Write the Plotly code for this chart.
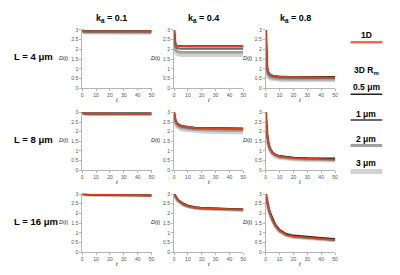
import plotly.graph_objects as go

# ---------------- data ----------------
t = [0, 0.5, 1, 2, 3, 5, 7, 10, 15, 20, 30, 40, 50]
series_names = ["3 μm", "2 μm", "1 μm", "0.5 μm", "1D"]
col_titles = ["k<sub>a</sub> = 0.1", "k<sub>a</sub> = 0.4", "k<sub>a</sub> = 0.8"]
row_titles = ["L = 4 μm", "L = 8 μm", "L = 16 μm"]
x_ticks = [0, 10, 20, 30, 40, 50]
y_ticks = [0, 0.5, 1, 1.5, 2, 2.5, 3]

# L = 4 um
L4_k01 = {
    "3 μm":   [3, 2.90, 2.87, 2.86, 2.86, 2.85, 2.85, 2.85, 2.85, 2.85, 2.85, 2.85, 2.85],
    "2 μm":   [3, 2.92, 2.90, 2.89, 2.89, 2.88, 2.88, 2.88, 2.88, 2.88, 2.88, 2.88, 2.88],
    "1 μm":   [3, 2.94, 2.92, 2.91, 2.91, 2.91, 2.91, 2.91, 2.91, 2.91, 2.91, 2.91, 2.91],
    "0.5 μm": [3, 2.96, 2.95, 2.95, 2.95, 2.95, 2.95, 2.95, 2.95, 2.95, 2.95, 2.95, 2.95],
    "1D":     [3, 2.95, 2.94, 2.93, 2.93, 2.93, 2.93, 2.93, 2.93, 2.93, 2.93, 2.93, 2.93],
}
L4_k04 = {
    "3 μm":   [3, 2.05, 1.85, 1.75, 1.72, 1.70, 1.70, 1.70, 1.70, 1.70, 1.70, 1.70, 1.70],
    "2 μm":   [3, 2.20, 2.00, 1.90, 1.87, 1.85, 1.85, 1.85, 1.85, 1.85, 1.85, 1.85, 1.85],
    "1 μm":   [3, 2.35, 2.15, 2.07, 2.05, 2.04, 2.04, 2.04, 2.04, 2.04, 2.04, 2.04, 2.04],
    "0.5 μm": [3, 2.45, 2.28, 2.20, 2.18, 2.17, 2.17, 2.17, 2.17, 2.17, 2.17, 2.17, 2.17],
    "1D":     [3, 2.50, 2.30, 2.20, 2.17, 2.16, 2.15, 2.15, 2.15, 2.15, 2.15, 2.15, 2.15],
}
L4_k08 = {
    "3 μm":   [3, 1.30, 0.80, 0.58, 0.50, 0.46, 0.44, 0.42, 0.41, 0.41, 0.41, 0.41, 0.41],
    "2 μm":   [3, 1.40, 0.90, 0.65, 0.57, 0.52, 0.50, 0.48, 0.47, 0.47, 0.47, 0.47, 0.47],
    "1 μm":   [3, 1.50, 1.00, 0.75, 0.66, 0.60, 0.57, 0.55, 0.54, 0.53, 0.53, 0.53, 0.53],
    "0.5 μm": [3, 1.60, 1.10, 0.82, 0.72, 0.66, 0.63, 0.61, 0.60, 0.60, 0.59, 0.59, 0.59],
    "1D":     [3, 1.60, 1.10, 0.80, 0.70, 0.65, 0.62, 0.60, 0.58, 0.57, 0.56, 0.55, 0.55],
}
# L = 8 um
L8_k01 = {
    "3 μm":   [3, 2.95, 2.93, 2.92, 2.91, 2.91, 2.90, 2.90, 2.90, 2.90, 2.90, 2.90, 2.90],
    "2 μm":   [3, 2.96, 2.94, 2.93, 2.92, 2.92, 2.91, 2.91, 2.91, 2.91, 2.91, 2.91, 2.91],
    "1 μm":   [3, 2.97, 2.95, 2.94, 2.93, 2.93, 2.93, 2.93, 2.93, 2.93, 2.93, 2.93, 2.93],
    "0.5 μm": [3, 2.98, 2.96, 2.95, 2.95, 2.95, 2.95, 2.95, 2.95, 2.95, 2.95, 2.95, 2.95],
    "1D":     [3, 2.97, 2.96, 2.95, 2.94, 2.94, 2.94, 2.93, 2.93, 2.93, 2.93, 2.93, 2.93],
}
L8_k04 = {
    "3 μm":   [3, 2.60, 2.42, 2.27, 2.20, 2.12, 2.08, 2.05, 2.01, 1.99, 1.97, 1.96, 1.95],
    "2 μm":   [3, 2.66, 2.50, 2.35, 2.28, 2.21, 2.17, 2.14, 2.11, 2.09, 2.07, 2.06, 2.05],
    "1 μm":   [3, 2.71, 2.56, 2.42, 2.35, 2.27, 2.23, 2.20, 2.17, 2.16, 2.14, 2.13, 2.12],
    "0.5 μm": [3, 2.75, 2.61, 2.47, 2.40, 2.32, 2.28, 2.25, 2.22, 2.21, 2.19, 2.18, 2.17],
    "1D":     [3, 2.75, 2.60, 2.45, 2.38, 2.30, 2.26, 2.23, 2.20, 2.19, 2.17, 2.16, 2.15],
}
L8_k08 = {
    "3 μm":   [3, 2.15, 1.72, 1.25, 1.02, 0.80, 0.70, 0.63, 0.58, 0.55, 0.52, 0.50, 0.49],
    "2 μm":   [3, 2.20, 1.80, 1.32, 1.08, 0.85, 0.75, 0.67, 0.62, 0.59, 0.56, 0.54, 0.53],
    "1 μm":   [3, 2.25, 1.85, 1.37, 1.12, 0.89, 0.79, 0.71, 0.66, 0.63, 0.60, 0.58, 0.57],
    "0.5 μm": [3, 2.30, 1.90, 1.40, 1.15, 0.92, 0.82, 0.74, 0.69, 0.66, 0.63, 0.62, 0.61],
    "1D":     [3, 2.30, 1.90, 1.40, 1.15, 0.90, 0.80, 0.72, 0.66, 0.63, 0.60, 0.57, 0.55],
}
# L = 16 um
L16_k01 = {
    "3 μm":   [3, 2.98, 2.97, 2.96, 2.96, 2.95, 2.95, 2.94, 2.94, 2.93, 2.93, 2.92, 2.91],
    "2 μm":   [3, 2.98, 2.98, 2.97, 2.97, 2.96, 2.96, 2.95, 2.95, 2.94, 2.94, 2.93, 2.92],
    "1 μm":   [3, 2.99, 2.98, 2.97, 2.97, 2.96, 2.96, 2.95, 2.95, 2.95, 2.94, 2.93, 2.93],
    "0.5 μm": [3, 2.99, 2.99, 2.98, 2.98, 2.97, 2.97, 2.96, 2.96, 2.95, 2.95, 2.94, 2.93],
    "1D":     [3, 2.99, 2.99, 2.98, 2.98, 2.97, 2.97, 2.96, 2.96, 2.95, 2.95, 2.94, 2.93],
}
L16_k04 = {
    "3 μm":   [3, 2.90, 2.83, 2.72, 2.63, 2.50, 2.42, 2.34, 2.27, 2.24, 2.21, 2.19, 2.17],
    "2 μm":   [3, 2.91, 2.85, 2.74, 2.65, 2.52, 2.44, 2.36, 2.28, 2.25, 2.22, 2.20, 2.18],
    "1 μm":   [3, 2.92, 2.86, 2.76, 2.67, 2.54, 2.46, 2.37, 2.29, 2.26, 2.23, 2.21, 2.19],
    "0.5 μm": [3, 2.94, 2.88, 2.79, 2.70, 2.58, 2.50, 2.41, 2.33, 2.29, 2.26, 2.24, 2.22],
    "1D":     [3, 2.93, 2.87, 2.77, 2.68, 2.55, 2.47, 2.38, 2.30, 2.27, 2.24, 2.22, 2.20],
}
L16_k08 = {
    "3 μm":   [3, 2.75, 2.54, 2.22, 1.97, 1.58, 1.32, 1.07, 0.86, 0.78, 0.72, 0.67, 0.61],
    "2 μm":   [3, 2.77, 2.56, 2.25, 2.00, 1.61, 1.35, 1.09, 0.88, 0.80, 0.74, 0.69, 0.63],
    "1 μm":   [3, 2.78, 2.58, 2.28, 2.03, 1.64, 1.37, 1.11, 0.90, 0.82, 0.76, 0.71, 0.65],
    "0.5 μm": [3, 2.80, 2.62, 2.32, 2.08, 1.70, 1.43, 1.16, 0.95, 0.87, 0.80, 0.75, 0.70],
    "1D":     [3, 2.80, 2.60, 2.30, 2.05, 1.65, 1.38, 1.12, 0.90, 0.82, 0.76, 0.71, 0.64],
}

panels = [
    [L4_k01, L4_k04, L4_k08],
    [L8_k01, L8_k04, L8_k08],
    [L16_k01, L16_k04, L16_k08],
]

# ---------------- style ----------------
W, H = 400, 275
colors = {"3 μm": "#d2d2d2", "2 μm": "#a0a0a0", "1 μm": "#6a6a6a", "0.5 μm": "#222222", "1D": "#d9441c"}
widths = {"3 μm": 3.5, "2 μm": 2.8, "1 μm": 2.0, "0.5 μm": 1.6, "1D": 1.8}
col_px = [(74, 144), (166.7, 236.7), (259.3, 329.3)]
row_px = [(19, 79), (103.3, 162.7), (186.7, 246.7)]
FONT = "Liberation Sans, Arial, sans-serif"

fig = go.Figure()
layout = dict(
    width=W, height=H, margin=dict(l=0, r=0, t=0, b=0),
    paper_bgcolor="white", plot_bgcolor="white", showlegend=False,
    font=dict(family=FONT, color="#000"),
)
annotations = []
shapes = []

idx = 0
for r in range(3):
    for c in range(3):
        idx += 1
        xa = "x" if idx == 1 else f"x{idx}"
        ya = "y" if idx == 1 else f"y{idx}"
        for name in series_names:
            fig.add_trace(go.Scatter(
                x=t, y=panels[r][c][name], mode="lines", name=name,
                line=dict(color=colors[name], width=widths[name]),
                xaxis=xa, yaxis=ya, hoverinfo="skip"))
        x0, x1 = col_px[c]
        y0, y1 = row_px[r]
        axcommon = dict(showgrid=False, zeroline=False, showline=True, linecolor="#b5b5b5",
                        linewidth=1, ticks="outside", ticklen=2, tickcolor="#b5b5b5",
                        tickfont=dict(size=5, color="#555", family=FONT))
        layout["xaxis" if idx == 1 else f"xaxis{idx}"] = dict(
            domain=[x0 / W, x1 / W], range=[0, 50], tickvals=x_ticks,
            anchor=ya, **axcommon)
        layout["yaxis" if idx == 1 else f"yaxis{idx}"] = dict(
            domain=[1 - y1 / H, 1 - y0 / H], range=[0, 3.02], tickvals=y_ticks,
            ticktext=[str(v) for v in y_ticks], anchor=xa, **axcommon)
        # axis labels
        annotations.append(dict(x=(x0 - 12) / W, y=1 - ((y0 + y1) / 2 - 1) / H,
                                xref="paper", yref="paper", xanchor="right", yanchor="middle",
                                text="<i>D</i>(<i>t</i>)", showarrow=False,
                                font=dict(size=5.5, family=FONT, color="#222")))
        annotations.append(dict(x=((x0 + x1) / 2) / W, y=1 - (y1 + 12) / H,
                                xref="paper", yref="paper", xanchor="center", yanchor="middle",
                                text="<i>t</i>", showarrow=False,
                                font=dict(size=6, family=FONT, color="#222")))

# column titles
for c in range(3):
    x0, x1 = col_px[c]
    annotations.append(dict(x=((x0 + x1) / 2 - 5) / W, y=1 - 8 / H, xref="paper", yref="paper",
                            xanchor="center", yanchor="middle", text="<b>" + col_titles[c] + "</b>",
                            showarrow=False, font=dict(size=9, family=FONT)))
# row titles
for r in range(3):
    y0, y1 = row_px[r]
    annotations.append(dict(x=3 / W, y=1 - ((y0 + y1) / 2 - 2) / H, xref="paper", yref="paper",
                            xanchor="left", yanchor="middle", text="<b>" + row_titles[r] + "</b>",
                            showarrow=False, font=dict(size=9.5, family=FONT)))

# legend (drawn manually)
leg_x0, leg_x1 = 345 / W, 377 / W
leg_cx = 361 / W
legend_items = [
    ("1D", 25, 32, "#ee6a50", 2.5),
    ("0.5 μm", 78, 85, colors["0.5 μm"], 1.5),
    ("1 μm", 105, 111.5, "#6a6a6a", 2.0),
    ("2 μm", 130.5, 137.5, "#a0a0a0", 3.0),
    ("3 μm", 155, 164, "#d2d2d2", 5.0),
]
for label, ty, ly, col, lw in legend_items:
    annotations.append(dict(x=leg_cx, y=1 - ty / H, xref="paper", yref="paper",
                            xanchor="center", yanchor="middle", text="<b>" + label + "</b>",
                            showarrow=False, font=dict(size=8.5, family=FONT)))
    shapes.append(dict(type="line", xref="paper", yref="paper", x0=leg_x0, x1=leg_x1,
                       y0=1 - ly / H, y1=1 - ly / H, line=dict(color=col, width=lw)))
annotations.append(dict(x=leg_cx, y=1 - 61 / H, xref="paper", yref="paper",
                        xanchor="center", yanchor="middle", text="<b>3D R<sub>m</sub></b>",
                        showarrow=False, font=dict(size=8.5, family=FONT)))

layout["annotations"] = annotations
layout["shapes"] = shapes
fig.update_layout(**layout)
fig.write_html("out.html")
